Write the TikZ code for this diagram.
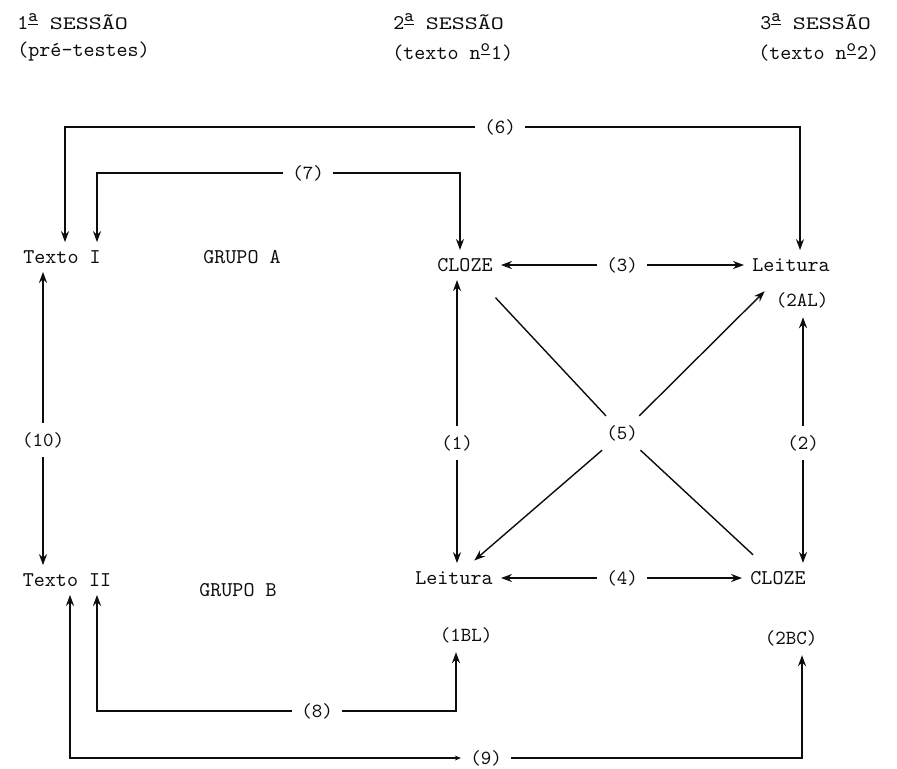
\documentclass[tikz,border=0pt]{standalone}
\usepackage{fontspec}
\usetikzlibrary{arrows.meta,calc}
\definecolor{InkClr}{rgb}{0.05,0.05,0.05}

\tikzset{
  Box/.style={font=\ttfamily\fontsize{10.5}{12}\selectfont,inner sep=4pt,text=InkClr},
  Lbl/.style={font=\ttfamily\fontsize{10}{12}\selectfont,inner sep=4.5pt,text=InkClr},
  Head/.style={font=\ttfamily\fontsize{10.5}{12}\selectfont,anchor=west,inner sep=0pt,text=InkClr},
  Link/.style={line width=0.9pt,draw=InkClr},
  Diag/.style={line width=0.7pt,draw=InkClr},
}
\newcommand{\Ord}[1]{\textsuperscript{\fontsize{9}{10}\selectfont\underline{#1}}}
\newcommand{\Sessao}{\scalebox{1.18}[0.9]{\fontsize{10.5}{12}\selectfont SESSÃO}}

\begin{document}
\begin{tikzpicture}[x=0.5pt,y=-0.5pt,>={Stealth[length=5.5pt,width=4pt]}]
\useasboundingbox (0,0) rectangle (897,768);

% sessoes
\node[Head] (s1) at (17,22) {1\Ord{a}\ \Sessao};
\node[Head] (p1) at (17,52) {(pré-testes)};
\node[Head] (s2) at (393,22) {2\Ord{a}\ \Sessao};
\node[Head] (p2) at (392,52) {(texto n\Ord{o}1)};
\node[Head] (s3) at (760,22) {3\Ord{a}\ \Sessao};
\node[Head] (p3) at (758,52) {(texto n\Ord{o}2)};

% textos e grupos
\node[Box] (t1) at (62,257) {Texto I};
\node[Box] (ga) at (242,257) {GRUPO A};
\node[Box] (t2) at (67,580) {Texto II};
\node[Box] (gb) at (238,590) {GRUPO B};

\node[Box] (c1) at (465,265) {CLOZE};
\node[Box] (l2) at (791,265) {Leitura};
\node[Lbl] (al) at (802,300) {(2AL)};
\node[Box] (l1) at (454,578) {Leitura};
\node[Box] (c2) at (778,578) {CLOZE};
\node[Lbl] (bl) at (466,635) {(1BL)};
\node[Lbl] (bc) at (791,638) {(2BC)};

% numeros
\node[Lbl] (n1) at (457,443) {(1)};
\node[Lbl] (n2) at (803,443) {(2)};
\node[Lbl] (n3) at (622,265) {(3)};
\node[Lbl] (n4) at (622,578) {(4)};
\node[Lbl] (n5) at (622,433) {(5)};
\node[Lbl] (n6) at (500,127) {(6)};
\node[Lbl] (n7) at (308,173) {(7)};
\node[Lbl] (n8) at (317,711) {(8)};
\node[Lbl] (n9) at (486,758) {(9)};
\node[Lbl] (n10) at (43,440) {(10)};

\coordinate (k1) at (65,127);
\coordinate (k2) at (800,127);
\coordinate (k3) at (97,173);
\coordinate (k4) at (460,173);
\coordinate (k5) at (97,711);
\coordinate (k6) at (456,711);
\coordinate (k7) at (70,758);
\coordinate (k8) at (802,758);

\draw[Link,->] (n1) -- (n1 |- c1.south);
\draw[Link,->] (n1) -- (n1 |- l1.north);
\draw[Link,->] (n2) -- (n2 |- al.south);
\draw[Link,->] (n2) -- (n2 |- c2.north);
\draw[Link,->] (n3) -- (c1);
\draw[Link,->] (n3) -- (l2);
\draw[Link,->] (n4) -- (l1);
\draw[Link,->] (n4) -- (c2);
\draw[Link,->] (n10) -- (n10 |- t1.south);
\draw[Link,->] (n10) -- (n10 |- t2.north);

\draw[Diag,shorten <=12pt] (c1) -- (n5);
\draw[Diag,->,shorten >=8pt] (n5) -- (l2);
\draw[Diag,->,shorten >=2pt] (n5) -- (l1);
\draw[Diag,shorten >=6pt] (n5) -- (c2);

\draw[Link,->] (n6) -- (k1) -- (k1 |- t1.north);
\draw[Link,->] (n6) -- (k2) -- (k2 |- l2.north);
\draw[Link,->] (n7) -- (k3) -- (k3 |- t1.north);
\draw[Link,->] (n7) -- (k4) -- (k4 |- c1.north);
\draw[Link,->] (n8) -- (k5) -- (k5 |- t2.south);
\draw[Link,->] (n8) -- (k6) -- (k6 |- bl.south);
\draw[Link,{Stealth[length=5.5pt,width=4pt]}-{Stealth[length=3pt,width=2.5pt]}] (k7 |- t2.south) -- (k7) -- (n9);
\draw[Link,->] (n9) -- (k8) -- (k8 |- bc.south);

\end{tikzpicture}
\end{document}
